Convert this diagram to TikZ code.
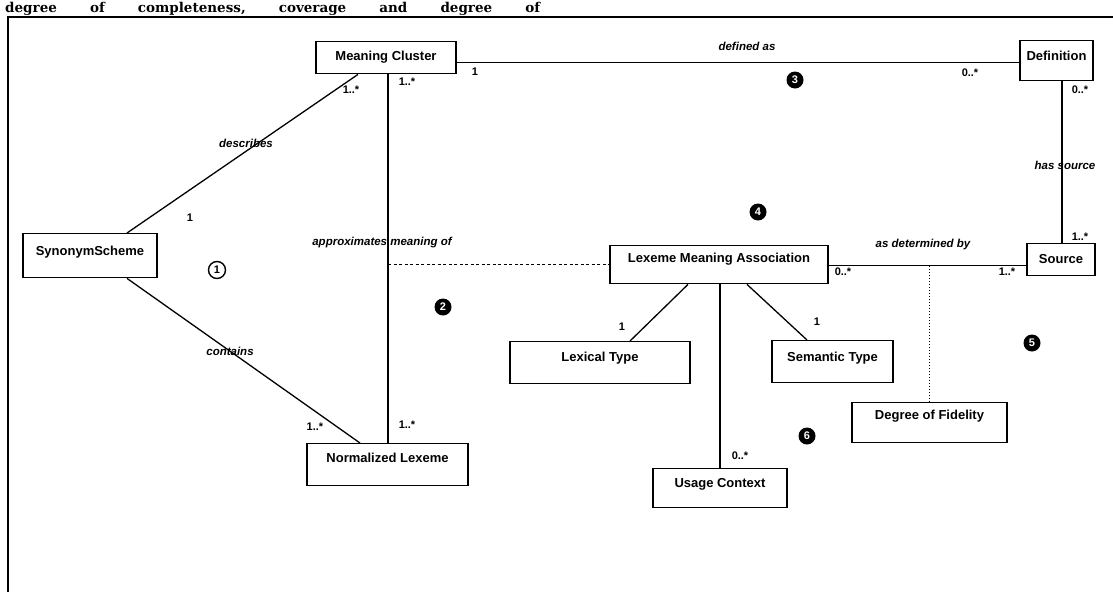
\documentclass[tikz,border=0pt]{standalone}
\usepackage{fontspec}
\setmainfont{Liberation Sans}
\newfontfamily\hdrfont{DejaVu Serif}
\begin{document}
\begin{tikzpicture}[x=1pt,y=-1pt,
  box/.style={draw, line width=1.4pt, inner sep=0pt, anchor=north, font=\fontsize{13}{15}\selectfont\bfseries},
  conn/.style={line width=1.3pt},
  lbl/.style={font=\fontsize{11.5}{13}\selectfont\bfseries\itshape, inner sep=0pt},
  mult/.style={font=\fontsize{11}{13}\selectfont\bfseries, inner sep=0pt},
  blk/.style={circle, fill=black, text=white, inner sep=0pt, minimum size=17pt, font=\fontsize{11}{11}\selectfont\bfseries},
  wht/.style={circle, draw, line width=1.4pt, inner sep=0pt, minimum size=17pt, font=\fontsize{11}{11}\selectfont\bfseries}]
\useasboundingbox (0,0) rectangle (1113,592);
\clip (0,0) rectangle (1113,592);
\fill[white] (0,0) rectangle (1113,592);

% header text
\node[anchor=base west, inner sep=0pt, font=\hdrfont\bfseries\fontsize{13.5}{14}\selectfont] (hdr) at (5,12.5)
  {\hbox to 535pt{degree\hfill of\hfill completeness,\hfill coverage\hfill and\hfill degree\hfill of}};
% frame
\draw[line width=1.6pt] (1113,17) -- (8,17) -- (8,592);

% classes
\node[box, minimum width=140pt, text height=19pt, text depth=13pt] (mc) at (386,41) {Meaning Cluster};
\node[box, minimum width=73pt, text height=20pt, text depth=20pt] (def) at (1056.5,40) {Definition};
\node[box, minimum width=134pt, text height=22pt, text depth=22pt] (ss) at (90,233) {SynonymScheme};
\node[box, minimum width=218pt, text height=17pt, text depth=21pt] (lma) at (719,245) {Lexeme Meaning Association};
\node[box, minimum width=68pt, text height=20pt, text depth=12pt] (src) at (1061,243) {Source};
\node[box, minimum width=180pt, text height=20pt, text depth=22pt] (lt) at (600,341) {Lexical Type};
\node[box, minimum width=161pt, text height=19pt, text depth=23pt] (nl) at (387.5,443) {Normalized Lexeme};
\node[box, minimum width=121pt, text height=21pt, text depth=21pt] (st) at (832.5,340) {Semantic Type};
\node[box, minimum width=155pt, text height=17pt, text depth=23pt] (dof) at (929.5,402) {Degree of Fidelity};
\node[box, minimum width=134pt, text height=19pt, text depth=20pt] (uc) at (720,468) {Usage Context};

% associations
\draw[conn] ([yshift=-5pt]mc.east) -- ([yshift=-5pt]mc.east -| def.west);
\draw[conn] ([xshift=5.5pt]def.south) -- ([xshift=5.5pt]def.south |- src.north);
\draw[conn] ([xshift=-28pt]mc.south) -- ([xshift=37pt]ss.north);
\draw[conn] ([xshift=37pt]ss.south) -- ([xshift=-27.5pt]nl.north);
\draw[conn] ([xshift=2pt]mc.south) -- ([xshift=0.5pt]nl.north);
\coordinate (am) at ([xshift=2pt]mc.south |- lma.west);
\draw[conn, dash pattern=on 3pt off 2.5pt] (am) -- (lma.west);
\coordinate (le) at ([yshift=-1pt]lma.east);
\coordinate (se) at (le -| src.west);
\draw[conn] (le) -- (se);
\coordinate (fd) at (le -| dof.north);
\draw[conn, dash pattern=on 1.5pt off 1.5pt] (fd) -- (dof.north);
\draw[conn] ([xshift=-31pt]lma.south) -- ([xshift=30pt]lt.north);
\draw[conn] ([xshift=1pt]lma.south) -- (uc.north);
\draw[conn] ([xshift=28pt]lma.south) -- ([xshift=-25.5pt]st.north);

% association labels
\node[lbl] (l1) at (747,46) {defined as};
\node[lbl] (l2) at (1065,165) {has source};
\node[lbl] (l3) at (246,143) {describes};
\node[lbl] (l4) at (230,351) {contains};
\node[lbl] (l5) at (382,243) {approximates meaning of};
\node[lbl] (l6) at (923,245) {as determined by};

% multiplicities
\node[mult] (m1) at (475,72) {1};
\node[mult] (m2) at (970,73) {0..*};
\node[mult] (m3) at (1080,90) {0..*};
\node[mult] (m4) at (1080,237) {1..*};
\node[mult] (m5) at (351,90) {1..*};
\node[mult] (m6) at (407,82) {1..*};
\node[mult] (m7) at (190,218) {1};
\node[mult] (m8) at (315,427) {1..*};
\node[mult] (m9) at (407,425) {1..*};
\node[mult] (m10) at (843,272) {0..*};
\node[mult] (m11) at (1007,272) {1..*};
\node[mult] (m12) at (622,327) {1};
\node[mult] (m13) at (817,322) {1};
\node[mult] (m14) at (740,456) {0..*};

% region numbers
\node[wht] (c1) at (217,270) {1};
\node[blk] (c2) at (443,307) {2};
\node[blk] (c3) at (795,80) {3};
\node[blk] (c4) at (758,212) {4};
\node[blk] (c5) at (1032,343) {5};
\node[blk] (c6) at (807,436) {6};
\end{tikzpicture}
\end{document}
